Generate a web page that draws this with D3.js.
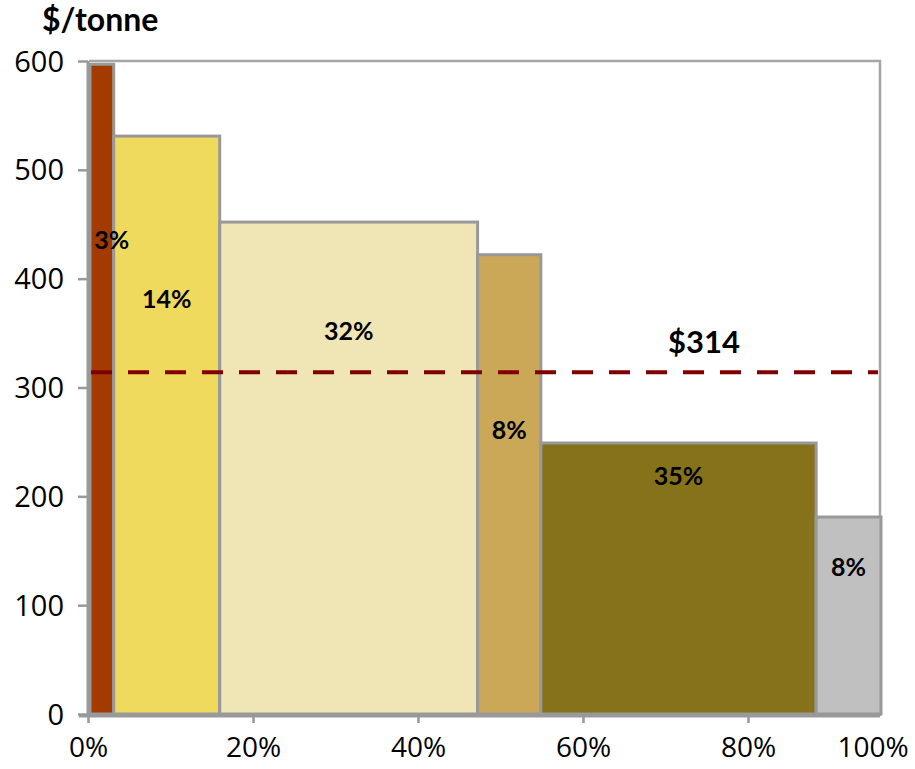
<!DOCTYPE html>
<html>
<head>
<meta charset="utf-8">
<script src="https://cdn.jsdelivr.net/npm/d3@7"></script>
<style>
  body { margin: 0; background: #fff; }
  .tick text { font-family: "Open Sans", sans-serif; }
</style>
</head>
<body>
<div id="chart-area"></div>
<script>
// segment data (share of volume in %, price $/tonne)
const shares = [3, 13.4, 32.6, 8, 34.8, 8.2]
const prices = [597, 531, 452, 422, 249, 181]
const shareLabels = ["3%", "14%", "32%", "8%", "35%", "8%"]
const colors = ["#A33A00", "#F0DA5E", "#F0E5B5", "#CBA758", "#85721B", "#C0C0C0"]
const average = 314
const averageLabel = "$314"
const yTicks = [0, 100, 200, 300, 400, 500, 600]
const xTicks = [0, 0.2, 0.4, 0.6, 0.8, 1]

// label heights in $/tonne (where each % sits in its bar)
const labelAt = [435, 381, 352, 261, 218, 135]

const WIDTH = 915
const HEIGHT = 769
const PLOT = { LEFT: 89, RIGHT: 880, TOP: 61, BOTTOM: 714 }

const svg = d3.select("#chart-area").append("svg")
  .attr("width", WIDTH)
  .attr("height", HEIGHT)

// scales
const x = d3.scaleLinear().domain([0, 100]).range([PLOT.LEFT, PLOT.RIGHT])
const y = d3.scaleLinear().domain([0, 600]).range([PLOT.BOTTOM, PLOT.TOP])
// the axis labels in the original are spaced a bit wider than the bars
const xAxisScale = d3.scaleLinear().domain([0, 1]).range([88, 913])

// plot area border (top + right)
svg.append("path")
  .attr("d", `M${PLOT.LEFT},${PLOT.TOP}H${PLOT.RIGHT}V${PLOT.BOTTOM + 2}`)
  .attr("fill", "none")
  .attr("stroke", "#a6a6a6")
  .attr("stroke-width", 2.5)

// bars
const segs = []
let cum = 0
shares.forEach((s, i) => {
  segs.push({ x0: cum, x1: cum + s, price: prices[i], label: shareLabels[i], color: colors[i], at: labelAt[i] })
  cum += s
})

svg.selectAll("rect.bar")
  .data(segs)
  .enter().append("rect")
  .attr("class", "bar")
  .attr("x", d => x(d.x0) + 1)
  .attr("width", d => x(d.x1) - x(d.x0))
  .attr("y", d => y(d.price))
  .attr("height", d => y(0) - y(d.price))
  .attr("fill", d => d.color)
  .attr("stroke", "#999")
  .attr("stroke-width", 3)

// y axis
const yAxis = svg.append("g")
  .attr("transform", `translate(${PLOT.LEFT - 1}, 0)`)
  .call(d3.axisLeft(y).tickValues(yTicks).tickSize(10).tickPadding(14))
yAxis.select(".domain").attr("stroke", "#999").attr("stroke-width", 3)
  .attr("d", `M0,${PLOT.TOP}V${PLOT.BOTTOM + 2}`)
yAxis.selectAll(".tick line").attr("stroke", "#999").attr("stroke-width", 2.5)
yAxis.selectAll(".tick text").attr("font-size", 29).attr("fill", "#000").attr("dy", "0.35em")

// x axis
const xAxis = svg.append("g")
  .attr("transform", `translate(0, ${PLOT.BOTTOM + 2})`)
  .call(d3.axisBottom(xAxisScale).tickValues(xTicks).tickFormat(d3.format(".0%")).tickSize(7).tickPadding(14))
xAxis.select(".domain").attr("stroke", "#999").attr("stroke-width", 3)
  .attr("d", `M${PLOT.LEFT - 10},0H${PLOT.RIGHT}`)
xAxis.selectAll(".tick line").attr("stroke", "#999").attr("stroke-width", 2.5)
xAxis.selectAll(".tick text").attr("font-size", 28).attr("fill", "#000")
// last label pulled back inside the canvas, without its tick
xAxis.selectAll(".tick").filter(d => d === 1)
  .attr("transform", `translate(${xAxisScale(1) - 40}, 0)`)
  .select("line").remove()

// average line
svg.append("line")
  .attr("x1", x(0) + 2)
  .attr("x2", x(100) - 2)
  .attr("y1", y(average))
  .attr("y2", y(average))
  .attr("stroke", "#800000")
  .attr("stroke-width", 4)
  .attr("stroke-dasharray", "21,16")

svg.append("text")
  .attr("x", 704)
  .attr("y", y(average) - 19)
  .attr("text-anchor", "middle")
  .attr("font-family", "Lato, 'DejaVu Sans', sans-serif")
  .attr("font-weight", "bold")
  .attr("font-size", 31)
  .attr("fill", "#000")
  .text(averageLabel)

// share labels
svg.selectAll("text.share")
  .data(segs)
  .enter().append("text")
  .attr("class", "share")
  .attr("x", (d, i) => x((d.x0 + d.x1) / 2) + (i === 0 ? 11 : 1))
  .attr("y", d => y(d.at))
  .attr("dy", "0.35em")
  .attr("text-anchor", "middle")
  .attr("font-family", "Lato, 'DejaVu Sans', sans-serif")
  .attr("font-weight", "bold")
  .attr("font-size", 25)
  .attr("fill", "#000")
  .text(d => d.label)

// unit label
svg.append("text")
  .attr("x", 42)
  .attr("y", 31)
  .attr("font-family", "Lato, 'DejaVu Sans', sans-serif")
  .attr("font-weight", "bold")
  .attr("font-size", 32)
  .attr("fill", "#000")
  .text("$/tonne")
</script>
</body>
</html>
